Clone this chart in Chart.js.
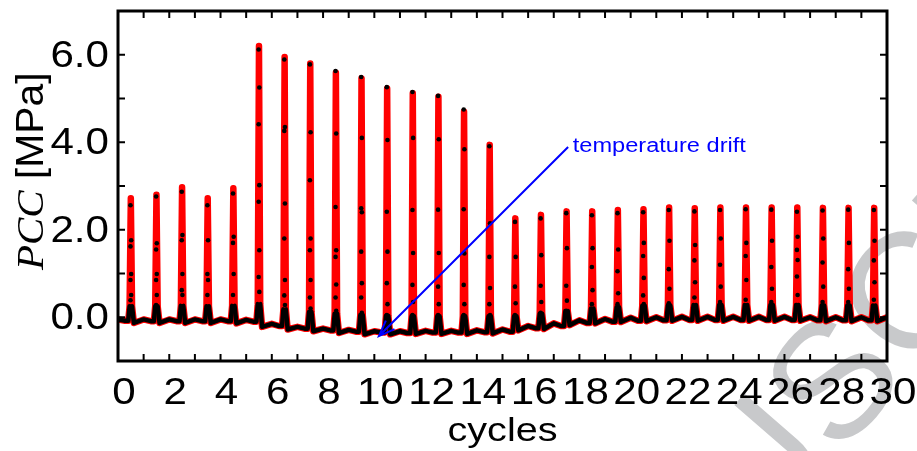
<!DOCTYPE html>
<html>
<head>
<meta charset="utf-8">
<script src="https://cdn.jsdelivr.net/npm/chart.js@4.4.1/dist/chart.umd.min.js"></script>
<style>
  html, body { margin: 0; padding: 0; background: #ffffff; }
  #wrap { width: 917px; height: 451px; }
</style>
</head>
<body>
<div id="wrap"><canvas id="c" width="917" height="451"></canvas></div>
<script>
// ---------------- data ----------------
const cycleNo = [0,1,2,3,4,5,6,7,8,9,10,11,12,13,14,15,16,17,18,19,20,21,22,23,24,25,26,27,28,29];

// PCC at the top of every spike [MPa]
const peakPCC = [2.72, 2.80, 2.97, 2.72, 2.95, 6.20, 5.95, 5.80, 5.59, 5.46, 5.23, 5.12, 5.04, 4.70, 3.94,
                 2.26, 2.34, 2.42, 2.42, 2.45, 2.47, 2.51, 2.49, 2.51, 2.51, 2.51, 2.51, 2.50, 2.50, 2.50];
// small bump half-way between two spikes (index n sits at cycle n; one extra value at the end)
const bumpPCC = [-0.05, -0.05, -0.05, -0.05, -0.05, -0.06, -0.15, -0.22, -0.26, -0.29, -0.32, -0.32, -0.31, -0.31, -0.30,
                 -0.28, -0.20, -0.14, -0.07, -0.04, -0.01, 0.00, 0.01, 0.01, 0.01, 0.01, 0.01, 0.00, 0.00, 0.00, 0.00];
// baseline just before each spike
const troughPCC = [-0.08, -0.09, -0.09, -0.09, -0.09, -0.10, -0.20, -0.26, -0.30, -0.33, -0.35, -0.36, -0.35, -0.35, -0.34,
                   -0.33, -0.25, -0.20, -0.13, -0.10, -0.08, -0.07, -0.06, -0.06, -0.06, -0.06, -0.06, -0.07, -0.07, -0.07];
// foot of each spike
const skirtPCC = [0.25, 0.25, 0.26, 0.25, 0.26, 0.30, 0.18, 0.12, 0.08, 0.05, 0.03, 0.02, 0.02, 0.02, 0.02,
                  0.02, 0.08, 0.14, 0.20, 0.23, 0.26, 0.27, 0.28, 0.28, 0.28, 0.28, 0.28, 0.27, 0.27, 0.27];
// dip right after each spike
const dipPCC = [-0.13, -0.13, -0.13, -0.13, -0.14, -0.22, -0.28, -0.32, -0.36, -0.39, -0.39, -0.38, -0.38, -0.38, -0.37,
                -0.30, -0.27, -0.18, -0.14, -0.11, -0.09, -0.08, -0.08, -0.08, -0.08, -0.08, -0.08, -0.09, -0.09, -0.09];
// sparse black samples seen on each spike
const blackSpikePCC = [
  [2.56, 1.76, 1.62, 0.99, 0.85, 0.51, 0.39],
  [2.76, 1.69, 1.55, 0.99, 0.85, 0.51, 0.28],
  [2.87, 1.88, 1.76, 0.99, 0.62, 0.51, 0.25],
  [2.56, 1.76, 0.99, 0.85, 0.51, 0.23],
  [2.83, 1.84, 1.70, 0.99, 0.51, 0.23],
  [6.12, 5.25, 4.41, 3.02, 2.64, 1.53, 0.92, 0.58, 0.28],
  [5.89, 4.35, 4.26, 2.60, 1.80, 0.85, 0.50, 0.28],
  [5.78, 4.23, 3.13, 1.80, 1.53, 0.85, 0.45, 0.20],
  [5.63, 4.20, 2.52, 1.53, 1.38, 0.75, 0.45, 0.15],
  [5.49, 4.10, 2.49, 2.40, 1.50, 0.78, 0.45, 0.10],
  [5.26, 4.05, 2.41, 1.50, 0.78, 0.30, 0.05],
  [5.15, 4.10, 2.45, 1.47, 0.74, 0.35, 0.05],
  [5.06, 4.07, 2.46, 1.47, 0.70, 0.30, 0.05],
  [4.75, 3.84, 2.47, 1.46, 0.74, 0.30, 0.05],
  [3.91, 2.15, 1.38, 0.67, 0.30, 0.05],
  [2.18, 1.38, 0.70, 0.32, 0.05],
  [2.26, 1.42, 0.72, 0.35, 0.10],
  [2.38, 1.58, 0.72, 0.38, 0.15],
  [2.33, 1.58, 1.15, 0.62, 0.30],
  [2.38, 1.55, 1.05, 0.55, 0.30],
  [2.40, 1.70, 1.40, 0.90, 0.50, 0.30],
  [2.45, 1.75, 1.10, 0.65, 0.32],
  [2.42, 1.65, 1.30, 0.80, 0.45],
  [2.45, 1.80, 1.20, 0.70, 0.35],
  [2.47, 1.70, 1.40, 0.85, 0.40],
  [2.46, 1.75, 1.15, 0.65, 0.35],
  [2.41, 1.84, 1.54, 1.31, 0.93, 0.51, 0.28],
  [2.44, 1.80, 1.25, 0.70, 0.35],
  [2.46, 1.70, 1.10, 0.65, 0.35],
  [2.45, 1.75, 1.30, 0.80, 0.40]
];

const xTickLabels = ['0','2','4','6','8','10','12','14','16','18','20','22','24','26','28','30'];
const yTickLabels = ['0.0','2.0','4.0','6.0'];
const xTitle = 'cycles';
const yTitleItalic = 'PCC';
const yTitleRest = ' [MPa]';
const noteText = 'temperature drift';
// annotation arrow: from the text end to the tip (data units)
const noteFrom = { x: 17.56, y: 3.89 };
const noteTip  = { x: 10.18, y: -0.43 };
const noteTextAt = { x: 17.74, y: 3.78 };

// ---------------- build point tables ----------------
const redPts = [];
const blackPts = [];
cycleNo.forEach((n, i) => {
  redPts.push({x: n, y: bumpPCC[i]});
  redPts.push({x: n + 0.28, y: troughPCC[i]});
  redPts.push({x: n + 0.40, y: troughPCC[i]});
  redPts.push({x: n + 0.452, y: skirtPCC[i]});
  redPts.push({x: n + 0.5, y: peakPCC[i]});
  redPts.push({x: n + 0.548, y: skirtPCC[i]});
  redPts.push({x: n + 0.62, y: dipPCC[i]});

  blackPts.push({x: n, y: bumpPCC[i]});
  blackPts.push({x: n + 0.28, y: troughPCC[i]});
  blackPts.push({x: n + 0.40, y: troughPCC[i]});
  blackPts.push({x: n + 0.452, y: skirtPCC[i]});
  const s = blackSpikePCC[i];
  const rise = s.filter((v, k) => k % 2 === 0).slice().reverse();
  const fall = s.filter((v, k) => k % 2 === 1);
  rise.forEach(v => blackPts.push({x: n + 0.487, y: v, s: 1}));
  fall.forEach(v => blackPts.push({x: n + 0.513, y: v, s: 1}));
  blackPts.push({x: n + 0.548, y: skirtPCC[i]});
  blackPts.push({x: n + 0.62, y: dipPCC[i]});
});
redPts.push({x: 30, y: bumpPCC[30]});
blackPts.push({x: 30, y: bumpPCC[30]});

// ---------------- drawing helpers ----------------
const SANS = '"Liberation Sans", Arial, sans-serif';
const SERIF = '"Liberation Serif", "Times New Roman", serif';

function stretchedText(ctx, text, x, y, font, align, sx) {
  ctx.save();
  ctx.font = font;
  const w = ctx.measureText(text).width * sx;
  let left = x;
  if (align === 'center') left = x - w / 2;
  else if (align === 'right') left = x - w;
  ctx.translate(left, y);
  ctx.scale(sx, 1);
  ctx.textAlign = 'left';
  ctx.textBaseline = 'alphabetic';
  ctx.fillText(text, 0, 0);
  ctx.restore();
}

const decorPlugin = {
  id: 'decor',
  beforeDraw(chart) {
    const ctx = chart.ctx;
    ctx.save();
    ctx.fillStyle = '#ffffff';
    ctx.fillRect(0, 0, chart.width, chart.height);
    // light watermark in the lower right corner
    ctx.translate(830, 378);
    ctx.rotate(-49 * Math.PI / 180);
    ctx.font = '165px ' + SANS;
    ctx.fillStyle = '#c8c9cb';
    const wPre = ctx.measureText('MANU').width;
    const wS = ctx.measureText('S').width;
    ctx.textBaseline = 'alphabetic';
    ctx.fillText('MANUSCRIPT', -(wPre + wS / 2), 59);
    ctx.restore();
  },
  afterDraw(chart) {
    const ctx = chart.ctx;
    const xs = chart.scales.x, ys = chart.scales.y;
    const a = chart.chartArea;
    ctx.save();
    // frame
    ctx.strokeStyle = '#000';
    ctx.lineWidth = 3;
    ctx.strokeRect(a.left, a.top, a.right - a.left, a.bottom - a.top);
    // inward ticks
    ctx.lineWidth = 2;
    ctx.beginPath();
    xs.ticks.forEach(t => {
      if (t.value <= xs.min || t.value >= xs.max) return;
      const px = xs.getPixelForValue(t.value);
      ctx.moveTo(px, a.bottom); ctx.lineTo(px, a.bottom - 7);
      ctx.moveTo(px, a.top); ctx.lineTo(px, a.top + 7);
    });
    ys.ticks.forEach(t => {
      if (t.value <= ys.min || t.value >= ys.max) return;
      const py = ys.getPixelForValue(t.value);
      ctx.moveTo(a.left, py); ctx.lineTo(a.left + 7, py);
      ctx.moveTo(a.right, py); ctx.lineTo(a.right - 7, py);
    });
    ctx.stroke();

    // tick labels
    ctx.fillStyle = '#000';
    const tickFont = '36px ' + SANS;
    xTickLabels.forEach(lbl => {
      const v = Number(lbl);
      stretchedText(ctx, lbl, xs.getPixelForValue(v) + 6, 404, tickFont, 'center', 1.17);
    });
    yTickLabels.forEach(lbl => {
      const v = Number(lbl);
      stretchedText(ctx, lbl, 109, ys.getPixelForValue(v) + 12, tickFont, 'right', 1.17);
    });

    // x title
    stretchedText(ctx, xTitle, (a.left + a.right) / 2, 441, '33px ' + SANS, 'center', 1.2);

    // y title (rotated)
    ctx.save();
    ctx.translate(42.5, 270);
    ctx.rotate(-Math.PI / 2);
    ctx.scale(1.075, 1);
    ctx.textBaseline = 'alphabetic';
    ctx.textAlign = 'left';
    ctx.font = 'italic 38px ' + SERIF;
    ctx.fillText(yTitleItalic, 0, 0);
    const wI = ctx.measureText(yTitleItalic).width;
    ctx.font = '38px ' + SANS;
    ctx.fillText(yTitleRest, wI, 0);
    ctx.restore();

    // annotation
    const fx = xs.getPixelForValue(noteFrom.x), fy = ys.getPixelForValue(noteFrom.y);
    const tx = xs.getPixelForValue(noteTip.x), ty = ys.getPixelForValue(noteTip.y);
    ctx.strokeStyle = '#0000ff';
    ctx.fillStyle = '#0000ff';
    ctx.lineWidth = 2;
    ctx.beginPath();
    ctx.moveTo(fx, fy); ctx.lineTo(tx, ty);
    const ang = Math.atan2(fy - ty, fx - tx);
    const L = 17, spread = 21 * Math.PI / 180;
    ctx.moveTo(tx + L * Math.cos(ang + spread), ty + L * Math.sin(ang + spread));
    ctx.lineTo(tx, ty);
    ctx.lineTo(tx + L * Math.cos(ang - spread), ty + L * Math.sin(ang - spread));
    ctx.stroke();
    stretchedText(ctx, noteText, xs.getPixelForValue(noteTextAt.x), ys.getPixelForValue(noteTextAt.y),
                  '20px ' + SANS, 'left', 1.18);
    ctx.restore();
  }
};

new Chart(document.getElementById('c'), {
  type: 'scatter',
  data: {
    datasets: [
      {
        label: 'black',
        data: blackPts,
        showLine: true,
        borderColor: '#000000',
        backgroundColor: '#000000',
        borderWidth: 4.5,
        borderJoinStyle: 'round',
        borderCapStyle: 'round',
        pointRadius: c => (c.raw && c.raw.s) ? 2.3 : 0,
        pointBorderWidth: 0,
        segment: {
          borderColor: c => (blackPts[c.p0DataIndex].s || blackPts[c.p1DataIndex].s) ? 'rgba(0,0,0,0)' : '#000000'
        }
      },
      {
        label: 'red',
        data: redPts,
        showLine: true,
        borderColor: '#ff0000',
        backgroundColor: '#ff0000',
        borderWidth: 6.5,
        borderJoinStyle: 'round',
        borderCapStyle: 'round',
        pointRadius: 2.6,
        pointBorderWidth: 0
      }
    ]
  },
  options: {
    responsive: false,
    animation: false,
    devicePixelRatio: 1,
    layout: { padding: { top: 11, right: 30, left: 0, bottom: 0 } },
    plugins: { legend: { display: false }, tooltip: { enabled: false } },
    scales: {
      x: {
        type: 'linear', min: 0, max: 30,
        ticks: { display: false, stepSize: 1 },
        grid: { display: false }, border: { display: false },
        afterFit: s => { s.height = 90; }
      },
      y: {
        type: 'linear', min: -1, max: 7,
        ticks: { display: false, stepSize: 1 },
        grid: { display: false }, border: { display: false },
        afterFit: s => { s.width = 118; }
      }
    }
  },
  plugins: [decorPlugin]
});
</script>
</body>
</html>
